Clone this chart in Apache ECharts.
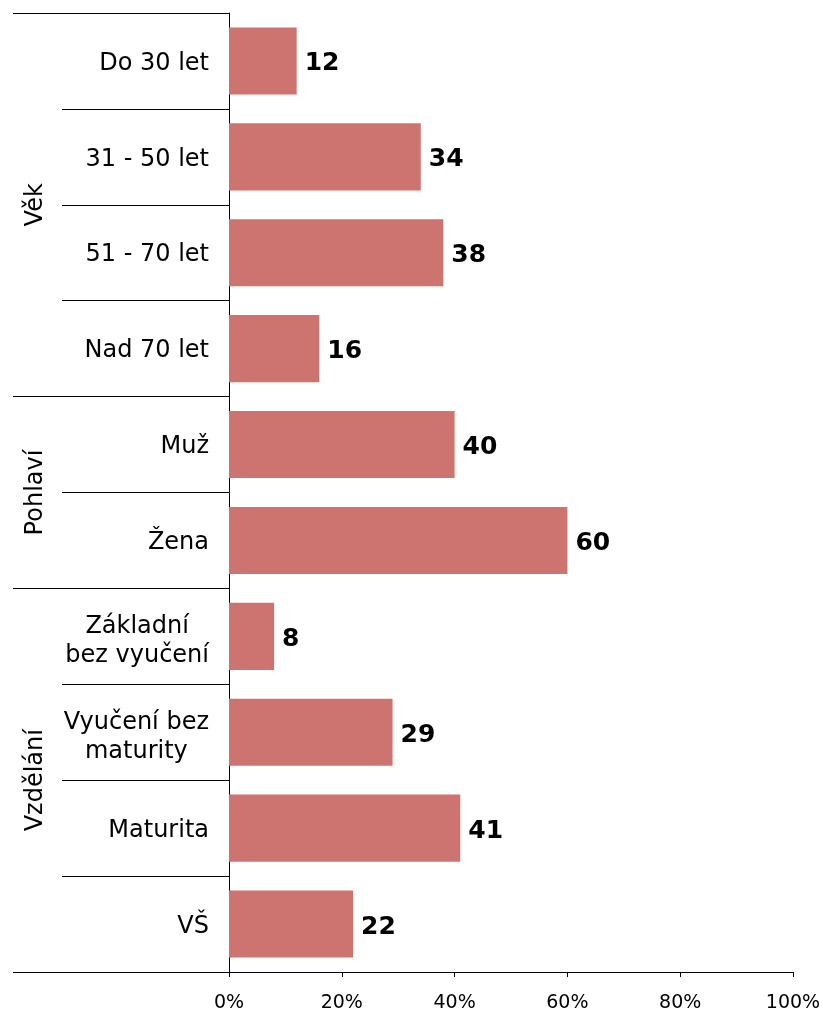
<!DOCTYPE html>
<html>
<head>
<meta charset="utf-8">
<title>Struktura podle věku, pohlaví a vzdělání</title>
<script src="https://cdn.jsdelivr.net/npm/echarts@6/dist/echarts.min.js"></script>
<style>
  html, body { margin: 0; padding: 0; background: #fff; }
  #chart { width: 823px; height: 1012px; }
</style>
</head>
<body>
<div id="chart"></div>
<script>
// Categories (top to bottom) and their shares in percent
const categories = [
  'Do 30 let', '31 - 50 let', '51 - 70 let', 'Nad 70 let',
  'Muž', 'Žena',
  'Základní\nbez vyučení', 'Vyučení bez\nmaturity', 'Maturita', 'VŠ'
];
const values = [12, 34, 38, 16, 40, 60, 8, 29, 41, 22];

// Category groups: boundaries (in category units) and group names
const groupNames = ['Věk', 'Pohlaví', 'Vzdělání'];
const groupBounds = [0, 4, 6, 10];
const groupCenters = [2, 5, 8];

// Percent axis ticks
const xTicks = [0, 20, 40, 60, 80, 100];

const FONT = '"DejaVu Sans", Verdana, sans-serif';
const BAR_COLOR = '#CD7470';

const chart = echarts.init(document.getElementById('chart'), null, { renderer: 'canvas' });

chart.setOption({
  animation: false,
  backgroundColor: '#ffffff',
  textStyle: { fontFamily: FONT },
  grid: {
    left: 229, right: 30, top: 13, bottom: 40,
    containLabel: false,
    outerBoundsMode: 'none'
  },
  xAxis: {
    type: 'value',
    min: xTicks[0],
    max: xTicks[xTicks.length - 1],
    interval: xTicks[1] - xTicks[0],
    position: 'bottom',
    axisLine: { show: true, onZero: false, lineStyle: { color: '#000', width: 1 } },
    axisTick: { show: true, inside: false, length: 5, lineStyle: { color: '#000' } },
    splitLine: { show: false },
    axisLabel: {
      formatter: '{value}%',
      fontFamily: FONT, fontSize: 19, color: '#000', margin: 22
    }
  },
  yAxis: [
    {
      // Category axis: labels and short separators between categories
      type: 'category',
      data: categories,
      inverse: true,
      position: 'left',
      axisLine: { show: true, onZero: false, lineStyle: { color: '#000', width: 1 } },
      axisTick: {
        show: true, inside: false, length: 167, interval: 0,
        alignWithLabel: false,
        lineStyle: { color: '#000', width: 1 }
      },
      axisLabel: {
        interval: 0,
        margin: 20,
        padding: [5, 0, 0, 0],
        fontFamily: FONT, fontSize: 24, color: '#000',
        lineHeight: 29,
        formatter: function (v) {
          const lines = v.split('\n');
          const body = lines.map(function (s) { return '{c|' + s + '}'; }).join('\n');
          // two-line labels get a thin spacer line on top
          return lines.length > 1 ? '{s| }\n' + body : body;
        },
        rich: {
          c: { align: 'center', fontFamily: FONT, fontSize: 24, color: '#000', lineHeight: 29 },
          s: { fontSize: 1, lineHeight: 5 }
        }
      },
      splitLine: { show: false }
    },
    {
      // Group axis: long separators between groups and rotated group names
      type: 'value',
      min: 0,
      max: categories.length,
      inverse: true,
      position: 'left',
      axisLine: { show: false, onZero: false },
      axisTick: {
        show: true, inside: false, length: 216,
        customValues: groupBounds,
        lineStyle: { color: '#000', width: 1 }
      },
      axisLabel: {
        show: true,
        customValues: groupCenters,
        rotate: 90,
        margin: 181,
        fontFamily: FONT, fontSize: 24, color: '#000',
        formatter: function (v) {
          const i = groupCenters.indexOf(Math.round(v));
          return i >= 0 ? groupNames[i] : '';
        }
      },
      splitLine: { show: false }
    }
  ],
  series: [
    {
      type: 'bar',
      yAxisIndex: 0,
      data: values,
      barCategoryGap: '30%',
      itemStyle: { color: BAR_COLOR },
      label: {
        show: true,
        position: 'right',
        distance: 8,
        offset: [0, 3],
        formatter: '{c}',
        fontFamily: FONT, fontSize: 25, fontWeight: 'bold', color: '#000'
      }
    }
  ]
});
</script>
</body>
</html>
